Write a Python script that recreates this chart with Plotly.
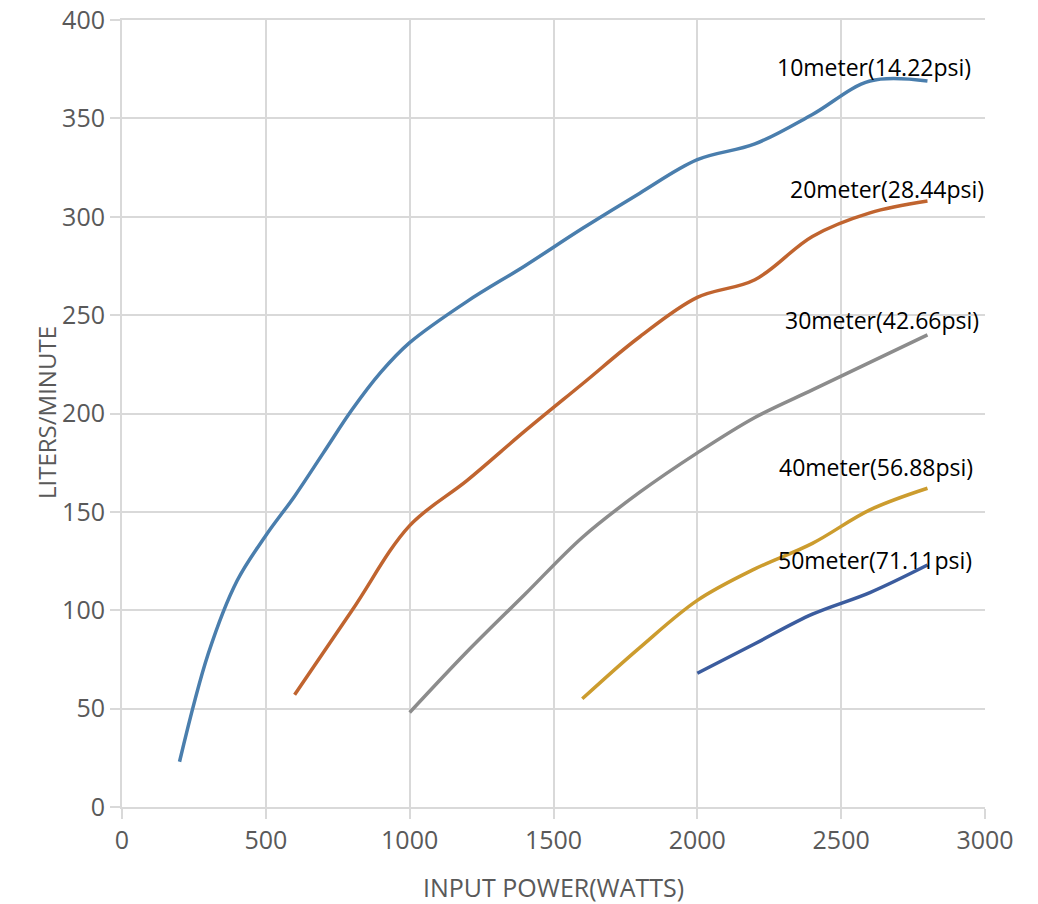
import plotly.graph_objects as go

# ---- data ----
x_10m = [200, 300, 400, 500, 600, 700, 800, 900, 1000, 1200, 1400, 1600, 1800, 2000, 2200, 2400, 2600, 2800]
y_10m = [23, 78, 115, 138, 158, 180, 202, 221, 236, 257, 275, 294, 312, 329, 337, 352, 369, 369]

x_20m = [600, 800, 1000, 1200, 1400, 1600, 1800, 2000, 2200, 2400, 2600, 2800]
y_20m = [57, 100, 143, 166, 191, 215, 239, 259, 268, 290, 302, 308]

x_30m = [1000, 1200, 1400, 1600, 1800, 2000, 2200, 2400, 2600, 2800]
y_30m = [48, 79, 108, 137, 160, 180, 198, 212, 226, 240]

x_40m = [1600, 1800, 2000, 2200, 2400, 2600, 2800]
y_40m = [55, 81, 105, 121, 134, 151, 162]

x_50m = [2000, 2200, 2400, 2600, 2800]
y_50m = [68, 83, 98, 109, 123]

series_names = ["10meter(14.22psi)", "20meter(28.44psi)", "30meter(42.66psi)",
                "40meter(56.88psi)", "50meter(71.11psi)"]
series_colors = ["#4A7EAD", "#C0642F", "#8C8C8C", "#CC9C2E", "#3B5C9E"]
label_x = [2614, 2659, 2642, 2621, 2618]
label_y = [376, 314, 247.5, 173, 125.5]

x_ticks = [0, 500, 1000, 1500, 2000, 2500, 3000]
y_ticks = [0, 50, 100, 150, 200, 250, 300, 350, 400]

xs = [x_10m, x_20m, x_30m, x_40m, x_50m]
ys = [y_10m, y_20m, y_30m, y_40m, y_50m]

W, H = 1038, 904
ml, mr, mt, mb = 122, 53, 20, 97
pw, ph = W - ml - mr, H - mt - mb

fig = go.Figure()
for xv, yv, name, col in zip(xs, ys, series_names, series_colors):
    fig.add_trace(go.Scatter(x=xv, y=yv, mode="lines", name=name,
                             line=dict(color=col, width=3.5, shape="spline", smoothing=1.0),
                             showlegend=False, cliponaxis=False))

annotations = []
for name, lx, ly in zip(series_names, label_x, label_y):
    annotations.append(dict(x=lx, y=ly, xref="x", yref="y", text=name, showarrow=False,
                            font=dict(family="Open Sans", size=23, color="#000000"),
                            xanchor="center", yanchor="middle"))
annotations.append(dict(x=0.5, y=(H - mb - 887) / ph, xref="paper", yref="paper",
                        text="INPUT POWER(WATTS)", showarrow=False,
                        xanchor="center", yanchor="middle",
                        font=dict(family="Open Sans", size=25, color="#595959")))
annotations.append(dict(x=(46 - ml) / pw, y=(H - mb - 413) / ph,
                        xref="paper", yref="paper",
                        text="LITERS/MINUTE", showarrow=False, textangle=-90,
                        xanchor="center", yanchor="middle",
                        font=dict(family="Open Sans", size=24, color="#595959")))

fig.update_layout(
    width=W, height=H,
    margin=dict(l=ml, r=mr, t=mt, b=mb, pad=0, autoexpand=False),
    plot_bgcolor="white", paper_bgcolor="white",
    annotations=annotations,
    xaxis=dict(range=[0, 3000], tickvals=x_ticks, ticktext=[str(v) for v in x_ticks],
               showgrid=True, gridcolor="#D9D9D9", gridwidth=2,
               zeroline=False, showline=True, linecolor="#D9D9D9", linewidth=2, mirror=True,
               ticks="outside", ticklen=10, tickcolor="#D9D9D9", tickwidth=2,
               ticklabeloverflow="allow",
               tickfont=dict(family="Open Sans", size=25, color="#595959")),
    yaxis=dict(range=[0, 400], tickvals=y_ticks, ticktext=[str(v) for v in y_ticks],
               showgrid=True, gridcolor="#D9D9D9", gridwidth=2,
               zeroline=False, showline=True, linecolor="#D9D9D9", linewidth=2,
               ticks="outside", ticklen=10, tickcolor="#D9D9D9", tickwidth=2,
               ticklabeloverflow="allow",
               tickfont=dict(family="Open Sans", size=25, color="#595959")),
)

# remove the default 8px page margin so the figure fills the window exactly
fig.write_html("out.html",
               config={"displayModeBar": False},
               post_script="document.body.style.margin='0';document.body.style.overflow='hidden';")
